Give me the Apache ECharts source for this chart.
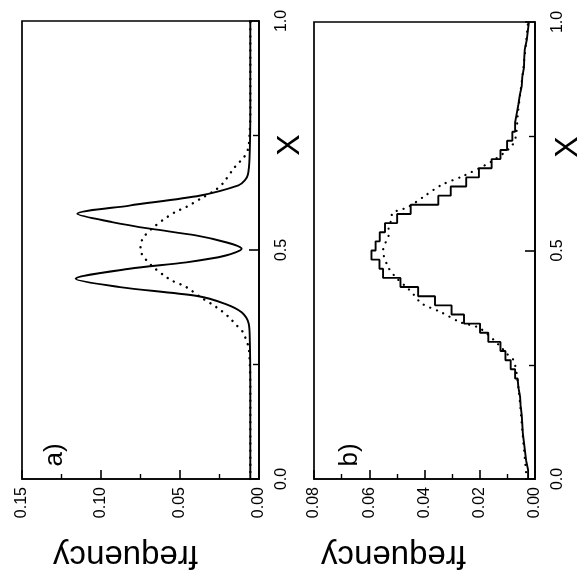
<!DOCTYPE html>
<html><head><meta charset="utf-8">
<script src="https://cdn.jsdelivr.net/npm/echarts@6/dist/echarts.min.js"></script>
<style>html,body{margin:0;padding:0;background:#fff}#c{width:580px;height:577px}</style>
</head><body><div id="c"></div>
<script>
// ---- data (X = position, F = frequency) ----
const xTickLabels = ['0.0', '0.5', '1.0'];
const aFreqTickLabels = ['0.00', '0.05', '0.10', '0.15'];
const bFreqTickLabels = ['0.00', '0.02', '0.04', '0.06', '0.08'];

// panel a, solid curve (two sharp peaks)
const aSolidX = [0.00, 0.10, 0.20, 0.30, 0.339, 0.364, 0.382, 0.400, 0.419, 0.437, 0.459, 0.473, 0.488, 0.503, 0.517, 0.532, 0.546, 0.561, 0.579, 0.597, 0.619, 0.641, 0.652, 0.665, 0.70, 0.80, 1.00];
const aSolidF = [0.0055, 0.0055, 0.0055, 0.0058, 0.0065, 0.011, 0.021, 0.040, 0.088, 0.116, 0.082, 0.046, 0.021, 0.011, 0.021, 0.040, 0.068, 0.093, 0.115, 0.082, 0.037, 0.013, 0.009, 0.007, 0.006, 0.0055, 0.0055];

// panel a, dotted curve (single broad peak)
const aDotX = [0.00, 0.20, 0.25, 0.287, 0.302, 0.320, 0.335, 0.353, 0.368, 0.382, 0.397, 0.419, 0.433, 0.444, 0.466, 0.481, 0.499, 0.510, 0.528, 0.546, 0.565, 0.583, 0.594, 0.612, 0.630, 0.645, 0.678, 0.690, 0.700, 0.720, 0.750, 0.80, 1.00];
const aDotF = [0.0055, 0.0055, 0.0058, 0.0065, 0.008, 0.010, 0.014, 0.019, 0.024, 0.030, 0.037, 0.046, 0.055, 0.060, 0.068, 0.072, 0.075, 0.075, 0.073, 0.068, 0.061, 0.053, 0.046, 0.037, 0.028, 0.023, 0.016, 0.013, 0.010, 0.007, 0.006, 0.0055, 0.0055];

// panel b, histogram (bins of width 0.02 from 0 to 1)
const bBinWidth = 0.02;
const bHist = [0.0025, 0.0032, 0.0036, 0.0040, 0.0044, 0.0046, 0.0048, 0.0052, 0.0054, 0.0060,
               0.0063, 0.0072, 0.0088, 0.0107, 0.0125, 0.0169, 0.0199, 0.0257, 0.0302, 0.0362,
               0.0423, 0.0487, 0.0550, 0.0563, 0.0592, 0.0577, 0.0562, 0.0543, 0.0499, 0.0450,
               0.0350, 0.0305, 0.0249, 0.0203, 0.0157, 0.0125, 0.0101, 0.0082, 0.0072, 0.0066,
               0.0060, 0.0055, 0.0048, 0.0046, 0.0040, 0.0039, 0.0037, 0.0030, 0.0026, 0.0022];

// panel b, dotted curve
const bDotX = [0.00, 0.10, 0.20, 0.258, 0.273, 0.293, 0.330, 0.343, 0.365, 0.384, 0.404, 0.417, 0.439, 0.462, 0.500, 0.519, 0.533, 0.552, 0.566, 0.581, 0.595, 0.619, 0.643, 0.663, 0.694, 0.726, 0.748, 0.80, 0.90, 1.00];
const bDotF = [0.003, 0.0045, 0.006, 0.0076, 0.010, 0.013, 0.020, 0.027, 0.034, 0.041, 0.044, 0.046, 0.050, 0.053, 0.055, 0.054, 0.053, 0.053, 0.052, 0.0517, 0.046, 0.040, 0.034, 0.026, 0.016, 0.0088, 0.007, 0.0062, 0.0042, 0.0025];

// ---- build series data ----
const pairs = (xs, fs) => xs.map((x, i) => [fs[i], x]);
const bStep = [];
bHist.forEach((f, k) => { bStep.push([f, k * bBinWidth]); bStep.push([f, (k + 1) * bBinWidth]); });

const FONT = 'Liberation Sans, Arial, Helvetica, sans-serif';
const black = '#000';

function freqAxis(grid, max, interval, labels, padLeft) {
  return {
    gridIndex: grid, type: 'value', inverse: true, min: 0, max: max, interval: interval,
    position: 'bottom',
    axisLine: { show: true, onZero: false, lineStyle: { color: black, width: 1.7 } },
    axisTick: { show: true, inside: true, length: 9, lineStyle: { color: black, width: 1.6 } },
    minorTick: { show: true, splitNumber: 2, length: 5, lineStyle: { color: black, width: 1.4 } },
    splitLine: { show: false },
    axisLabel: { rotate: 90, fontSize: 16, color: black, fontFamily: FONT, margin: 8,
      formatter: v => labels.find(l => Math.abs(parseFloat(l) - v) < 1e-9) || '' },
    name: 'frequency', nameLocation: 'middle', nameGap: 60, nameRotate: 180,
    nameTextStyle: { fontSize: 33, color: black, fontFamily: FONT, padding: [0, 0, 0, padLeft] }
  };
}
function xAxisVert(grid) {
  return {
    gridIndex: grid, type: 'value', min: 0, max: 1, interval: 0.5, position: 'right',
    axisLine: { show: true, onZero: false, lineStyle: { color: black, width: 1.7 } },
    axisTick: { show: true, inside: true, length: 10, lineStyle: { color: black, width: 1.6 } },
    minorTick: { show: true, splitNumber: 2, length: 6, lineStyle: { color: black, width: 1.4 } },
    splitLine: { show: false },
    axisLabel: { rotate: 90, fontSize: 16, color: black, fontFamily: FONT, margin: 15,
      formatter: v => xTickLabels.find(l => Math.abs(parseFloat(l) - v) < 1e-9) || '' }
  };
}

const chart = echarts.init(document.getElementById('c'), null, { renderer: 'canvas' });
chart.setOption({
  backgroundColor: '#fff',
  animation: false,
  grid: [
    { left: 22, top: 21, width: 237, height: 458, show: true, borderColor: black, borderWidth: 1.7, backgroundColor: 'transparent' },
    { left: 314, top: 22, width: 221, height: 459, show: true, borderColor: black, borderWidth: 1.7, backgroundColor: 'transparent' }
  ],
  xAxis: [ freqAxis(0, 0.15, 0.05, aFreqTickLabels, 30), freqAxis(1, 0.08, 0.02, bFreqTickLabels, 62) ],
  yAxis: [ xAxisVert(0), xAxisVert(1) ],
  graphic: [
    { type: 'text', x: 290, y: 145, rotation: Math.PI / 2, style: { text: 'X', fontSize: 32, fontFamily: FONT, fill: black, align: 'center', verticalAlign: 'middle' } },
    { type: 'text', x: 568, y: 147, rotation: Math.PI / 2, style: { text: 'X', fontSize: 32, fontFamily: FONT, fill: black, align: 'center', verticalAlign: 'middle' } },
    { type: 'text', x: 55, y: 455, rotation: Math.PI / 2, style: { text: 'a)', fontSize: 26, fontFamily: FONT, fill: black, align: 'center', verticalAlign: 'middle' } },
    { type: 'text', x: 350, y: 455, rotation: Math.PI / 2, style: { text: 'b)', fontSize: 26, fontFamily: FONT, fill: black, align: 'center', verticalAlign: 'middle' } }
  ],
  series: [
    { name: 'a solid', type: 'line', xAxisIndex: 0, yAxisIndex: 0, data: pairs(aSolidX, aSolidF), showSymbol: false, smooth: 0.3,
      lineStyle: { color: black, width: 1.9 } },
    { name: 'a dotted', type: 'line', xAxisIndex: 0, yAxisIndex: 0, data: pairs(aDotX, aDotF), showSymbol: false, smooth: 0.3,
      lineStyle: { color: black, width: 2.4, type: [0.1, 7], cap: 'round' } },
    { name: 'b histogram', type: 'line', xAxisIndex: 1, yAxisIndex: 1, data: bStep, showSymbol: false,
      lineStyle: { color: black, width: 1.9 } },
    { name: 'b dotted', type: 'line', xAxisIndex: 1, yAxisIndex: 1, data: pairs(bDotX, bDotF), showSymbol: false, smooth: 0.3,
      lineStyle: { color: black, width: 2.2, type: [0.1, 7], cap: 'round' } }
  ]
});
</script></body></html>
